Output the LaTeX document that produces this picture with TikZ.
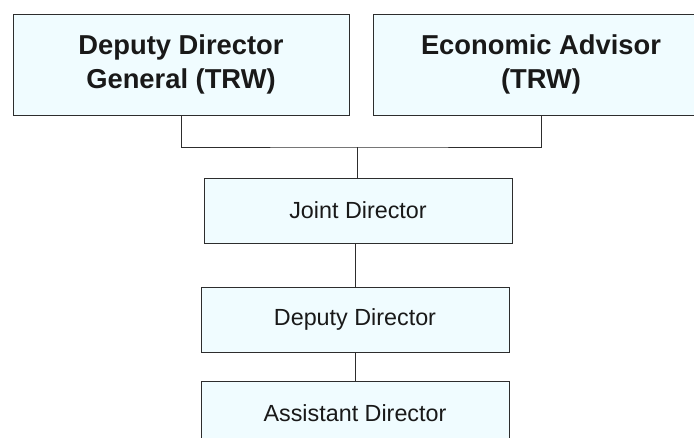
\documentclass[tikz,border=0pt]{standalone}
\usepackage{fontspec}
\setmainfont{Liberation Sans}
\usetikzlibrary{positioning}
\definecolor{boxfill}{RGB}{240,252,255}
\definecolor{boxline}{RGB}{45,45,45}
\begin{document}
\begin{tikzpicture}[x=0.75pt,y=-0.75pt,node distance=17.25pt,
  topbox/.style={draw=boxline,fill=boxfill,line width=0.75pt,align=center,text=black!90,minimum width=252pt,minimum height=75.75pt,inner sep=0pt,font=\fontsize{20.5}{25}\selectfont\bfseries},
  rankbox/.style={draw=boxline,fill=boxfill,line width=0.75pt,text=black!90,minimum width=231pt,minimum height=48.75pt,inner sep=0pt,font=\fontsize{17.5}{21}\selectfont},
  link/.style={draw=boxline,line width=0.75pt}]
\useasboundingbox (0,0) rectangle (694,437);
\clip (0,0) rectangle (694,437);
\node[topbox] (ddg) at (181,64.5) {Deputy Director\\General (TRW)};
\node[topbox,right=of ddg] (ea) {Economic Advisor\\(TRW)};
\node[rankbox] (jd) at (358,210.5) {Joint Director};
\node[rankbox,below=32.25pt of jd,xshift=-2.25pt] (dd) {Deputy Director};
\node[rankbox,below=21pt of dd] (ad) {Assistant Director};
\coordinate (join) at (357,147);
\draw[link] (ddg.south) |- (join) -| (ea.south);
\draw[link] (join) -- (join |- jd.north);
\draw[link] (jd.south -| dd.north) -- (dd.north);
\draw[link] (dd.south) -- (ad.north);
\end{tikzpicture}
\end{document}
